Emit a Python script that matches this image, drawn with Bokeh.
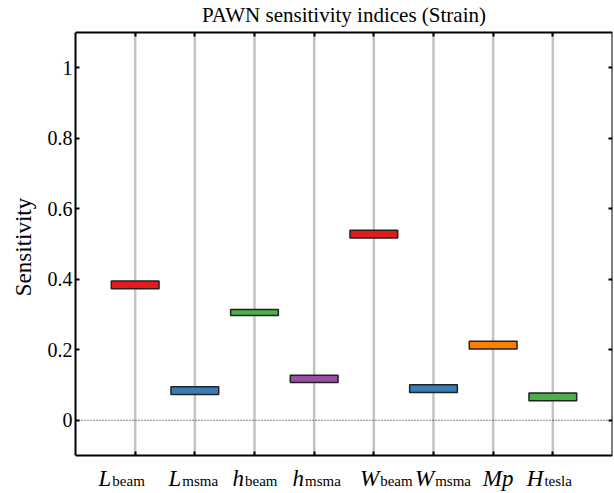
from bokeh.plotting import figure
from bokeh.models import Span, LinearAxis, FixedTicker, Range1d
from bokeh.embed import file_html
from bokeh.resources import INLINE

# ---- data ----
param_main = ["L", "L", "h", "h", "W", "W", "Mp", "H"]
param_sub = ["beam", "msma", "beam", "msma", "beam", "msma", "", "tesla"]
lower = [0.373, 0.073, 0.297, 0.107, 0.517, 0.079, 0.202, 0.055]
upper = [0.395, 0.095, 0.314, 0.128, 0.539, 0.101, 0.224, 0.077]
colors = ["#e41a1c", "#377eb8", "#4daf4a", "#984ea3",
          "#e41a1c", "#377eb8", "#ff7f00", "#4daf4a"]
y_ticks = [0, 0.2, 0.4, 0.6, 0.8, 1]
y_tick_labels = ["0", "0.2", "0.4", "0.6", "0.8", "1"]
y_min, y_max = -0.1, 1.1
title_text = "PAWN sensitivity indices (Strain)"
y_label = "Sensitivity"

# ---- style / layout ----
FONT = "Liberation Serif"
label_nudge_px = [-14, -2, 0, 2, 12, 9, 5, -4]   # horizontal placement tweak of x labels
n = len(param_main)
xs = list(range(1, n + 1))
box_w = 0.8

W, H = 614, 493
LEFT, RIGHT = 75, 2
PAD_TOP, PAD_BOTTOM = 32, 38          # room inside the frame above / below the axes box
plot_px = H - PAD_TOP - PAD_BOTTOM
k = plot_px / (y_max - y_min)         # pixels per y unit
kx = (W - LEFT - RIGHT) / (n + 1)     # pixels per x unit
yr = Range1d(y_min - PAD_BOTTOM / k, y_max + PAD_TOP / k)

p = figure(width=W, height=H, x_range=Range1d(0, n + 1), y_range=yr,
           output_backend="svg", toolbar_location=None,
           min_border_left=LEFT, min_border_right=RIGHT, min_border_top=0,
           min_border_bottom=0, background_fill_color="white",
           border_fill_color="white")
p.outline_line_color = None
p.grid.grid_line_color = None


def style_axis(ax, ticks, labels=True):
    ax.ticker = FixedTicker(ticks=ticks)
    ax.axis_line_color = "black"
    ax.axis_line_width = 2
    ax.major_tick_in = 4
    ax.major_tick_out = 0
    ax.major_tick_line_width = 2
    ax.minor_tick_line_color = None
    if labels:
        ax.major_label_text_font = FONT
        ax.major_label_text_font_size = "20px"
        ax.major_label_text_color = "black"
    else:
        ax.major_label_text_color = None
        ax.major_label_text_font_size = "0px"
        ax.major_label_standoff = 0


# left axis
ly = p.yaxis[0]
style_axis(ly, y_ticks)
ly.bounds = (y_min, y_max)
ly.major_label_overrides = {t: l for t, l in zip(y_ticks, y_tick_labels)}
ly.major_label_standoff = 3
ly.axis_label = y_label
ly.axis_label_text_font = FONT
ly.axis_label_text_font_size = "23px"
ly.axis_label_text_font_style = "normal"
ly.axis_label_text_color = "black"
ly.axis_label_standoff = 9

# right axis
ry = LinearAxis(fixed_location=n + 1)
style_axis(ry, y_ticks, labels=False)
ry.bounds = (y_min, y_max)
p.add_layout(ry, "right")

# bottom and top axes on the box edges; the top one carries the title
bx = p.xaxis[0]
style_axis(bx, xs, labels=False)
bx.fixed_location = y_min
tx = LinearAxis(fixed_location=y_max)
style_axis(tx, xs, labels=False)
tx.axis_label = title_text
tx.axis_label_text_font = FONT
tx.axis_label_text_font_size = "21px"
tx.axis_label_text_font_style = "normal"
tx.axis_label_text_color = "black"
tx.axis_label_standoff = 6
p.add_layout(tx, "above")

# x category labels: italic symbol + upright subscript, as two label-only axes
ital_w = {"L": 0.556, "h": 0.5, "W": 0.833, "M": 0.833, "p": 0.5, "H": 0.722}
reg_w = {"b": 0.5, "e": 0.444, "a": 0.444, "m": 0.778, "s": 0.389, "t": 0.278, "l": 0.278}
MAIN, SUB = 23, 15
main_pos, main_map, sub_pos, sub_map = [], {}, [], {}
for x, m, s, nd in zip(xs, param_main, param_sub, label_nudge_px):
    wm = sum(ital_w[c] for c in m) * MAIN
    ws = sum(reg_w[c] for c in s) * SUB
    start = -(wm + ws) / 2 + nd
    mp = x + (start + wm / 2) / kx
    main_pos.append(mp)
    main_map[mp] = m
    if s:
        sp = x + (start + wm + 1 + ws / 2) / kx
        sub_pos.append(sp)
        sub_map[sp] = s


def label_axis(ticks, mapping, size, style, standoff):
    ax = LinearAxis(fixed_location=y_min, ticker=FixedTicker(ticks=ticks),
                    major_label_overrides=mapping)
    ax.axis_line_color = None
    ax.major_tick_line_color = None
    ax.minor_tick_line_color = None
    ax.major_tick_out = 0
    ax.major_tick_in = 0
    ax.major_label_standoff = standoff
    ax.major_label_text_font = FONT
    ax.major_label_text_font_size = f"{size}px"
    ax.major_label_text_font_style = style
    ax.major_label_text_color = "black"
    p.add_layout(ax, "below")


label_axis(main_pos, main_map, MAIN, "italic", 10)
label_axis(sub_pos, sub_map, SUB, "normal", 17)

# gray vertical guide lines at each parameter
p.segment(x0=xs, y0=[y_min] * n, x1=xs, y1=[y_max] * n,
          line_color="#c4c4c4", line_width=2.5)

# zero line
p.add_layout(Span(location=0, dimension="width", line_color="black",
                  line_width=1, line_dash="1 2"))

# boxes
p.quad(left=[x - box_w / 2 for x in xs], right=[x + box_w / 2 for x in xs],
       bottom=lower, top=upper, fill_color=colors, line_color="#222222",
       line_width=1.5)

open("out.html", "w").write(file_html(p, INLINE))
